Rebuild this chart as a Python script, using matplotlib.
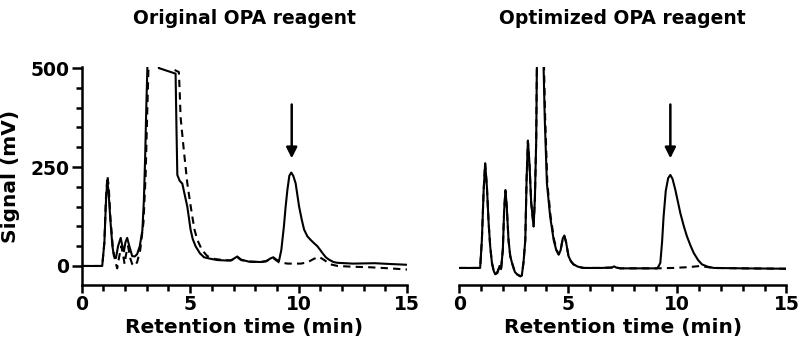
import matplotlib
matplotlib.use("Agg")
import matplotlib.pyplot as plt
from matplotlib.ticker import MultipleLocator

plt.rcParams['font.family'] = 'DejaVu Sans'
plt.rcParams['font.weight'] = 'bold'

# left panel: original reagent, solid = sample, dashed = blank
orig_t = [0, 0.95, 1.05, 1.12, 1.18, 1.24, 1.32, 1.42, 1.49, 1.58, 1.68, 1.80, 1.88, 1.95,
          2.02, 2.10, 2.20, 2.33, 2.45, 2.56, 2.68, 2.80, 2.87, 2.93, 2.98, 3.03, 3.10, 3.50,
          3.56, 4.33, 4.37, 4.41, 4.52, 4.64, 4.75, 4.87, 5.02, 5.12, 5.25, 5.45, 5.64, 5.95,
          6.25, 6.6, 6.87, 7.0, 7.17, 7.35, 7.7, 8.25, 8.5, 8.7, 8.83, 8.95, 9.09, 9.2, 9.32,
          9.40, 9.48, 9.57, 9.66, 9.75, 9.86, 10.02, 10.15, 10.25, 10.4, 10.55, 10.7, 10.86,
          11.0, 11.09, 11.25, 11.4, 11.6, 11.78, 12.5, 13.5, 14.2, 15.0]
orig_s = [0, 0, 60, 160, 215, 190, 120, 50, 25, 20, 50, 71, 50, 37,
          60, 71, 50, 25, 24, 30, 50, 90, 167, 280, 400, 500, 600, 600,
          500, 486, 350, 230, 215, 208, 180, 150, 92, 68, 50, 32, 22, 18,
          15, 14, 14, 18, 24, 16, 11, 10, 12, 19, 22, 17, 12, 40, 100,
          150, 192, 228, 236, 228, 209, 150, 115, 92, 75, 66, 58, 50,
          40, 33, 22, 16, 10, 8, 6, 7, 5, 3]

orig_blank_t = [0, 0.95, 1.05, 1.12, 1.19, 1.25, 1.33, 1.45, 1.56, 1.64, 1.72, 1.83, 1.92,
                1.98, 2.05, 2.14, 2.24, 2.33, 2.45, 2.56, 2.70, 2.85, 2.95, 3.02, 3.08, 3.15,
                4.12, 4.18, 4.48, 4.52, 4.56, 4.71, 4.87, 5.0, 5.1, 5.2, 5.33, 5.55, 5.79,
                6.1, 6.5, 6.87, 7.0, 7.17, 7.35, 7.7, 8.25, 8.5, 8.7, 8.83, 8.95, 9.1, 9.5,
                10.1, 10.4, 10.7, 10.94, 11.15, 11.47, 11.8, 12.5, 13.2, 14.2, 15.0]
orig_blank_s = [0, 0, 60, 170, 228, 200, 120, 40, 10, -6, 20, 50, 25,
                5, 30, 50, 20, 5, 0, 10, 40, 110, 230, 380, 500, 600,
                600, 498, 490, 440, 376, 292, 209, 160, 125, 92, 66, 40, 25,
                18, 15, 14, 17, 22, 15, 11, 10, 12, 18, 20, 15, 9, 6,
                6, 9, 18, 23, 16, 4, 0, -2, -3, -6, -9]

# right panel: optimized reagent
opt_t = [0, 0.96, 1.04, 1.12, 1.19, 1.27, 1.35, 1.42, 1.5, 1.58, 1.65, 1.75, 1.85, 1.92,
         2.0, 2.06, 2.12, 2.18, 2.26, 2.34, 2.42, 2.55, 2.65, 2.8, 2.87, 2.95, 3.03, 3.09,
         3.15, 3.22, 3.30, 3.41, 3.47, 3.53, 3.56, 3.62, 3.82, 3.87, 3.92, 4.02, 4.17, 4.33,
         4.45, 4.56, 4.65, 4.75, 4.82, 4.9, 5.01, 5.12, 5.24, 5.45, 5.7, 6.5, 7.0, 7.1, 7.2,
         7.39, 8.5, 9.07, 9.15, 9.22, 9.3, 9.37, 9.47, 9.58, 9.68, 9.78, 9.91, 10.14, 10.3,
         10.44, 10.6, 10.75, 10.95, 11.13, 11.4, 11.67, 13.0, 15.0]
opt_s = [-5, -5, 66, 190, 259, 200, 108, 50, 8, -12, -21, -18, 0, -8,
         41, 140, 192, 150, 66, 25, 8, -15, -21, -26, -24, 10, 66, 220,
         317, 260, 160, 100, 170, 317, 500, 600, 600, 500, 376, 209, 125, 66,
         40, 29, 40, 70, 77, 60, 25, 12, 4, -2, -5, -5, -4, -1, -4,
         -6, -6, -6, 0, 8, 60, 125, 190, 222, 230, 220, 192, 133, 100,
         75, 52, 33, 15, 4, -2, -5, -6, -7]

opt_blank_t = [0, 0.96, 1.04, 1.12, 1.19, 1.27, 1.35, 1.42, 1.5, 1.58, 1.65, 1.75, 1.85, 1.92,
               2.0, 2.06, 2.12, 2.18, 2.26, 2.34, 2.42, 2.55, 2.65, 2.8, 2.87, 2.95, 3.03, 3.09,
               3.15, 3.22, 3.30, 3.41, 3.47, 3.53, 3.56, 3.62, 3.84, 3.89, 3.94, 4.04, 4.19,
               4.35, 4.47, 4.56, 4.65, 4.75, 4.82, 4.9, 5.01, 5.12, 5.24, 5.45, 5.7, 6.5, 7.0,
               7.1, 7.2, 7.39, 8.5, 9.07, 9.8, 10.5, 11.06, 11.4, 11.67, 13.0, 15.0]
opt_blank_s = [-5, -5, 66, 190, 259, 200, 108, 50, 8, -12, -21, -15, -2, -8,
               41, 140, 190, 150, 66, 25, 8, -15, -21, -26, -24, 10, 66, 220,
               315, 260, 160, 100, 170, 317, 500, 600, 600, 500, 376, 209, 125,
               66, 40, 29, 40, 70, 76, 60, 25, 12, 4, -2, -5, -5, -4,
               -1, -4, -6, -6, -6, -5, -3, 0, -3, -5, -6, -7]

titles = ["Original OPA reagent", "Optimized OPA reagent"]
arrow_t = 9.68

fig = plt.figure(figsize=(8, 3.54), dpi=100)
ax1 = fig.add_axes([0.102, 0.195, 0.407, 0.616])
ax2 = fig.add_axes([0.574, 0.195, 0.409, 0.616])

ax1.plot(orig_t, orig_s, color='black', lw=1.5)
ax1.plot(orig_blank_t, orig_blank_s, color='black', lw=1.5, ls=(0, (3.5, 2.5)))
ax2.plot(opt_t, opt_s, color='black', lw=1.5)
ax2.plot(opt_blank_t, opt_blank_s, color='black', lw=1.5, ls=(0, (3.5, 2.5)))

for ax, title in zip([ax1, ax2], titles):
    ax.set_xlim(0, 15)
    ax.set_ylim(-48, 503)
    ax.spines['top'].set_visible(False)
    ax.spines['right'].set_visible(False)
    ax.spines['left'].set_linewidth(1.8)
    ax.spines['bottom'].set_linewidth(1.8)
    ax.xaxis.set_major_locator(MultipleLocator(5))
    ax.xaxis.set_minor_locator(MultipleLocator(1))
    ax.tick_params(axis='x', which='major', length=6, width=1.8, labelsize=13.5, pad=1)
    ax.tick_params(axis='x', which='minor', length=4, width=1.8)
    ax.set_xlabel("Retention time (min)", fontsize=14.5, fontweight='bold', labelpad=3)
    ax.text(0.5, 1.22, title, transform=ax.transAxes, ha='center', va='center',
            fontsize=13.5, fontweight='bold')
    ax.annotate("", xy=(arrow_t, 272), xytext=(arrow_t, 408),
                arrowprops=dict(arrowstyle='-|>', color='black', lw=1.8,
                                mutation_scale=16, shrinkA=0, shrinkB=0))

ax1.yaxis.set_major_locator(MultipleLocator(250))
ax1.yaxis.set_minor_locator(MultipleLocator(50))
ax1.tick_params(axis='y', which='major', length=7, width=1.8, labelsize=13.5, pad=2)
ax1.tick_params(axis='y', which='minor', length=4, width=1.8)
ax1.set_ylabel("Signal (mV)", fontsize=14.5, fontweight='bold')
ax1.yaxis.set_label_coords(-0.19, 0.5)

ax2.spines['left'].set_visible(False)
ax2.tick_params(axis='y', which='both', left=False, labelleft=False)

fig.savefig("out.png", dpi=100)
